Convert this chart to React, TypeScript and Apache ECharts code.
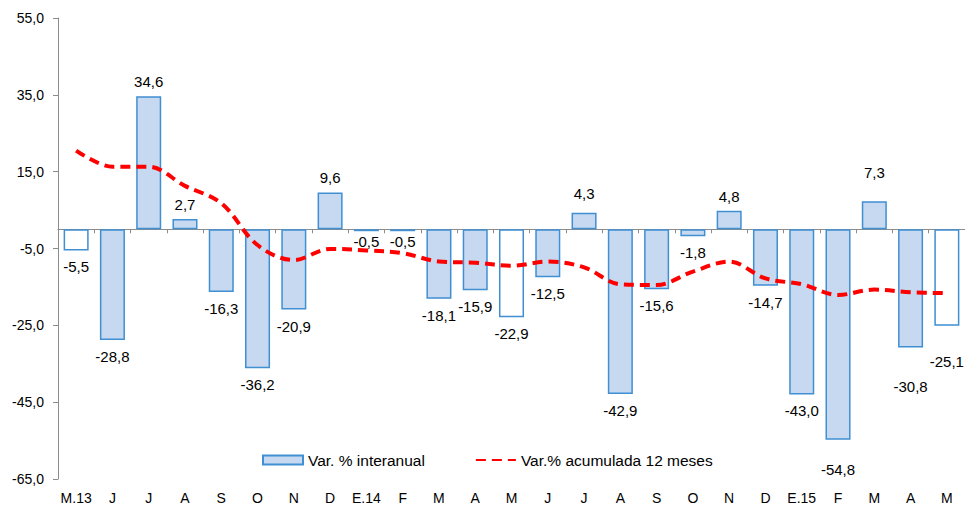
import React, { useEffect, useRef } from "react";
import * as echarts from "echarts";

const categories = ["M.13", "J", "J", "A", "S", "O", "N", "D", "E.14", "F", "M", "A", "M", "J", "J", "A", "S", "O", "N", "D", "E.15", "F", "M", "A", "M"];
const interanual = [-5.5, -28.8, 34.6, 2.7, -16.3, -36.2, -20.9, 9.6, -0.5, -0.5, -18.1, -15.9, -22.9, -12.5, 4.3, -42.9, -15.6, -1.8, 4.8, -14.7, -43.0, -54.8, 7.3, -30.8, -25.1];
const acumulada = [20.5, 16.3, 16.3, 11.3, 6.8, -4.1, -8.0, -5.1, -5.5, -6.2, -8.4, -8.7, -9.5, -8.4, -9.9, -14.3, -14.5, -11.0, -8.4, -12.8, -14.3, -17.1, -15.7, -16.4, -16.6];
const hollowIdx = [0, 12, 24];
const yTicks = { min: -65, max: 55, interval: 20 };

// label gap overrides (styling), by category index
const labelGap: Record<number, number> = { 8: 3, 9: 3, 14: 12, 21: 22, 22: 21, 23: 31, 24: 28 };

const FONT = "'Liberation Sans', Arial, sans-serif";
const fmt = (v: number) => v.toFixed(1).replace(".", ",");

export default function App() {
  const ref = useRef<HTMLDivElement>(null);
  useEffect(() => {
    if (!ref.current) return;
    const chart = echarts.init(ref.current, null, { renderer: "svg" });
    const barData = interanual.map((v, i) => ({
      value: v,
      itemStyle: { color: hollowIdx.includes(i) ? "#ffffff" : "#C6D9F1" },
      label: {
        position: v >= 0 ? "top" : "bottom",
        distance: labelGap[i] ?? (v >= 0 ? 7 : 9),
      },
    }));
    chart.setOption({
      animation: false,
      textStyle: { fontFamily: FONT },
      grid: { left: 58, right: 0, top: 18, bottom: 27, containLabel: false },
      legend: {
        left: 257,
        top: 447,
        itemWidth: 40,
        itemHeight: 9,
        itemGap: 50,
        textStyle: { fontSize: 15.5, color: "#000", fontFamily: FONT },
        data: [
          { name: "Var. % interanual", icon: "rect" },
          { name: "Var.% acumulada 12 meses", itemStyle: { opacity: 0 } },
        ],
      },
      xAxis: [
        {
          type: "category",
          data: categories,
          position: "bottom",
          axisLine: { show: true, onZero: true, lineStyle: { color: "#8C8C8C", width: 1 } },
          axisTick: { show: true, length: 4, lineStyle: { color: "#8C8C8C" } },
          axisLabel: { show: false },
          splitLine: { show: false },
        },
        {
          type: "category",
          data: categories,
          position: "bottom",
          axisLine: { show: false, onZero: false },
          axisTick: { show: false },
          axisLabel: { show: true, fontSize: 14, color: "#000", margin: 12, fontFamily: FONT, interval: 0 },
          splitLine: { show: false },
        },
      ],
      yAxis: {
        type: "value",
        min: yTicks.min,
        max: yTicks.max,
        interval: yTicks.interval,
        axisLine: { show: true, lineStyle: { color: "#8C8C8C", width: 1 } },
        axisTick: { show: true, length: 5, lineStyle: { color: "#8C8C8C" } },
        splitLine: { show: false },
        axisLabel: { fontSize: 14, color: "#000", margin: 14, formatter: (v: number) => fmt(v), fontFamily: FONT },
      },
      series: [
        {
          name: "Var. % interanual",
          type: "bar",
          xAxisIndex: 0,
          barWidth: "69%",
          data: barData,
          itemStyle: { borderColor: "#3F8FD2", borderWidth: 1.5, color: "#C6D9F1" },
          label: {
            show: true,
            fontSize: 15,
            color: "#000",
            fontFamily: FONT,
            formatter: (p: any) => fmt(p.value),
          },
        },
        {
          name: "Var.% acumulada 12 meses",
          type: "line",
          xAxisIndex: 0,
          data: acumulada,
          smooth: 0.35,
          symbol: "none",
          lineStyle: { color: "#FF0000", width: 4, type: [10, 6] },
          itemStyle: { color: "#FF0000" },
          z: 3,
        },
      ],
    });
    return () => chart.dispose();
  }, []);
  return (
    <div
      ref={ref}
      style={{ position: "absolute", left: 0, top: 0, width: 965, height: 506, background: "#fff" }}
    />
  );
}
